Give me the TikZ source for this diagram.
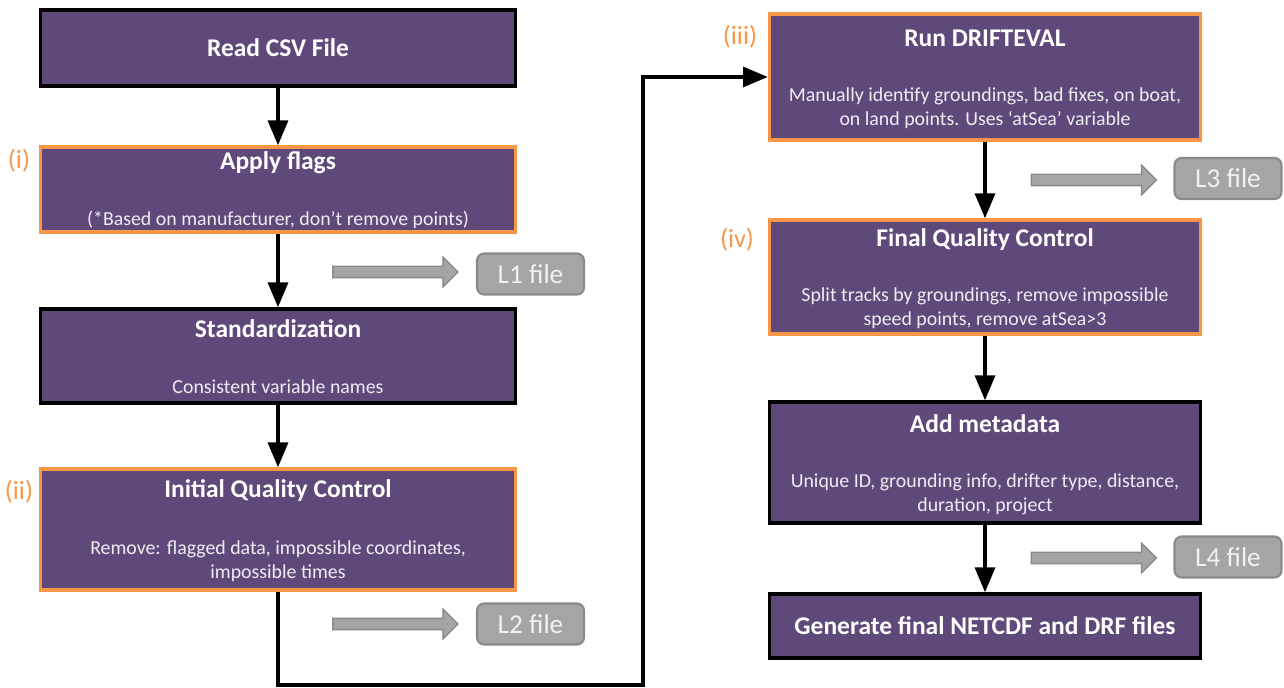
\documentclass[tikz,border=0pt]{standalone}
\usepackage{fontspec}
\setmainfont{Carlito}
\usetikzlibrary{arrows,positioning,shapes.arrows}
\definecolor{boxpurple}{HTML}{5F497A}
\definecolor{steporange}{HTML}{F79646}
\definecolor{filegrey}{HTML}{A5A5A5}
\definecolor{fileedge}{HTML}{8A8A8A}

\begin{document}
\begin{tikzpicture}[x=0.02cm,y=-0.02cm,>=triangle 45,
    box/.style={rectangle,draw=black,line width=2.2pt,fill=boxpurple,minimum width=9.5cm},
    rbox/.style={box,minimum width=8.62cm},
    qc/.style={draw=steporange},
    title/.style={text=white,font=\fontsize{14.5}{17}\selectfont\bfseries},
    sub/.style={text=white!90!boxpurple,align=center,font=\fontsize{11.3}{13.6}\selectfont},
    tag/.style={text=steporange,font=\fontsize{15}{17}\selectfont},
    filebox/.style={rectangle,rounded corners=4pt,draw=fileedge,line width=1.2pt,fill=filegrey,
        text=white!95!black,minimum width=2.14cm,minimum height=0.82cm,font=\fontsize{15.5}{18}\selectfont},
    fileto/.style={single arrow,draw=fileedge,fill=filegrey,line width=0.8pt,minimum height=2.5cm,
        inner xsep=0pt,inner ysep=0.1cm,single arrow head extend=0.18cm},
    flow/.style={->,line width=2.3pt}]

    \useasboundingbox (0,0) rectangle (1284,688);

    % left column
    \node[box,minimum height=1.52cm] (read) at (278,48) {};
    \node[box,qc,minimum height=1.7cm] (flags) at (278,189.5) {};
    \node[box,minimum height=1.88cm] (stand) at (278,356) {};
    \node[box,qc,minimum height=2.42cm] (initqc) at (278,529.5) {};

    % right column
    \node[rbox,qc,minimum height=2.52cm] (drift) at (985,77) {};
    \node[rbox,qc,minimum height=2.28cm] (finalqc) at (985,277) {};
    \node[rbox,minimum height=2.42cm] (meta) at (985,462.5) {};
    \node[rbox,minimum height=1.28cm] (gen) at (985,626) {};

    % texts
    \node[title] (readT) at (278,48) {Read CSV File};
    \node[title] (flagsT) at (278,163) {Apply flags};
    \node[sub] (flagsS) at (278,220) {(*Based on manufacturer, don’t remove points)};
    \node[title] (standT) at (278,329) {Standardization};
    \node[sub] (standS) at (278,387) {Consistent variable names};
    \node[title] (initqcT) at (278,491) {Initial Quality Control};
    \node[sub] (initqcS) at (278,561) {Remove: flagged data, impossible coordinates,\\impossible times};
    \node[title] (driftT) at (985,38) {Run DRIFTEVAL};
    \node[sub] (driftS) at (985,108.5) {Manually identify groundings, bad fixes, on boat,\\on land points. Uses ‘atSea’ variable};
    \node[title] (finalqcT) at (985,240) {Final Quality Control};
    \node[sub] (finalqcS) at (985,308.5) {Split tracks by groundings, remove impossible\\speed points, remove atSea>3};
    \node[title] (metaT) at (985,424) {Add metadata};
    \node[sub] (metaS) at (985,494) {Unique ID, grounding info, drifter type, distance,\\duration, project};
    \node[title] (genT) at (985,626) {Generate final NETCDF and DRF files};

    % step tags
    \node[tag] (t1) at (19,161) {(i)};
    \node[tag] (t2) at (19,492) {(ii)};
    \node[tag] (t3) at (740,37) {(iii)};
    \node[tag] (t4) at (737,240) {(iv)};

    % output files
    \node[filebox] (l1) at (530.5,274) {L1 file};
    \node[filebox] (l2) at (530.5,624) {L2 file};
    \node[filebox] (l3) at (1228,178.5) {L3 file};
    \node[filebox] (l4) at (1228,557) {L4 file};
    \node[fileto] (a1) at (392.5,272) {};
    \node[fileto] (a2) at (392.5,624) {};
    \node[fileto] (a3) at (1091,180) {};
    \node[fileto] (a4) at (1091,558) {};

    % flow
    \coordinate (bend) at (643,685);
    \draw[flow] (read) -- (flags);
    \draw[flow] (flags) -- (stand);
    \draw[flow] (stand) -- (initqc);
    \draw[flow] (initqc.south) |- (bend) |- (drift.west);
    \draw[flow] (drift) -- (finalqc);
    \draw[flow] (finalqc) -- (meta);
    \draw[flow] (meta) -- (gen);

\end{tikzpicture}
\end{document}
